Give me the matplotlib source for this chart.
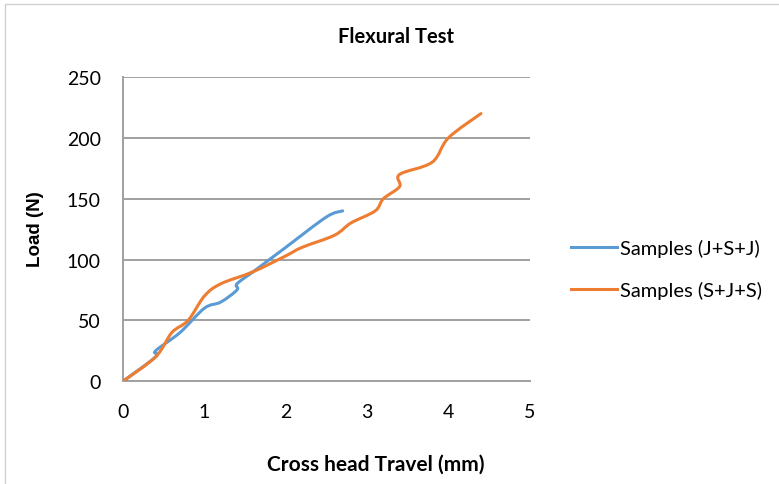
import numpy as np
import matplotlib
matplotlib.use("Agg")
import matplotlib.pyplot as plt
from matplotlib.path import Path
from matplotlib.patches import PathPatch, Rectangle
from matplotlib.lines import Line2D

# cross head travel (mm) and load (N)
travel_jsj = [0, 0.4, 0.4, 0.7, 1.0, 1.2, 1.4, 1.4, 1.6, 1.8, 2.0, 2.5, 2.7]
load_jsj = [0, 20, 25, 40, 60, 65, 75, 80, 90, 100, 110, 135, 140]

travel_sjs = [0, 0.4, 0.6, 0.8, 1.0, 1.2, 1.6, 2.0, 2.2, 2.6, 2.8, 3.1, 3.2, 3.4, 3.4, 3.8, 4.0, 4.4]
load_sjs = [0, 20, 40, 50, 70, 80, 90, 103, 110, 120, 130, 140, 150, 160, 170, 180, 200, 220]

labels = ["Samples (J+S+J)", "Samples (S+J+S)"]
colors = ["#5B9BD5", "#ED7D31"]


def smooth_path(xs, ys):
    # excel style smoothed line: cubic bezier segments, catmull-rom control points
    p = np.column_stack([xs, ys]).astype(float)
    n = len(p)
    verts = [p[0]]
    codes = [Path.MOVETO]
    for i in range(n - 1):
        p0 = p[i - 1] if i > 0 else p[i]
        p3 = p[i + 2] if i + 2 < n else p[i + 1]
        c1 = p[i] + (p[i + 1] - p0) / 6.0
        c2 = p[i + 1] - (p3 - p[i]) / 6.0
        verts += [c1, c2, p[i + 1]]
        codes += [Path.CURVE4] * 3
    return Path(verts, codes)


plt.rcParams["font.family"] = ["Lato", "DejaVu Sans"]

fig = plt.figure(figsize=(7.79, 4.85), dpi=100)
ax = fig.add_axes([0.158, 0.212, 0.522, 0.627])

series = [(travel_jsj, load_jsj), (travel_sjs, load_sjs)]
for (xs, ys), col in zip(series, colors):
    ax.add_patch(PathPatch(smooth_path(xs, ys), facecolor="none",
                           edgecolor=col, lw=2.2, capstyle="round", zorder=3))

ax.set_xlim(0, 5)
ax.set_ylim(0, 250)
ax.set_xticks(range(0, 6))
ax.set_yticks(range(0, 251, 50))
ax.grid(axis="y", color="#A0A0A0", lw=1.4)
ax.set_axisbelow(True)
for s in ["top", "right"]:
    ax.spines[s].set_visible(False)
for s in ["left", "bottom"]:
    ax.spines[s].set_color("#A0A0A0")
    ax.spines[s].set_linewidth(1.4)
ax.tick_params(length=0, labelsize=14, colors="black")
ax.tick_params(axis="y", pad=16)
ax.tick_params(axis="x", pad=16)

fig.text(0.508, 0.924, "Flexural Test", ha="center", va="center",
         fontsize=14.5, fontweight="bold")
fig.text(0.482, 0.041, "Cross head Travel (mm)", ha="center", va="center",
         fontsize=15, fontweight="bold")
fig.text(0.045, 0.528, "Load (N)", ha="center", va="center", rotation=90,
         fontsize=13.5, fontweight="bold", family=["Liberation Sans", "DejaVu Sans"])

handles = [Line2D([], [], color=c, lw=2.2) for c in colors]
fig.legend(handles, labels, loc="center left", bbox_to_anchor=(0.733, 0.443),
           frameon=False, fontsize=14.5, handlelength=2.3, handletextpad=0.15,
           labelspacing=1.2, borderaxespad=0, borderpad=0)

# outer chart border
fig.add_artist(Rectangle((5 / 779, -0.05), 1.2, 1.05 - 5 / 485,
                         transform=fig.transFigure, fill=False,
                         edgecolor="#D0D0D0", lw=1.0))

fig.savefig("out.png", dpi=100)
